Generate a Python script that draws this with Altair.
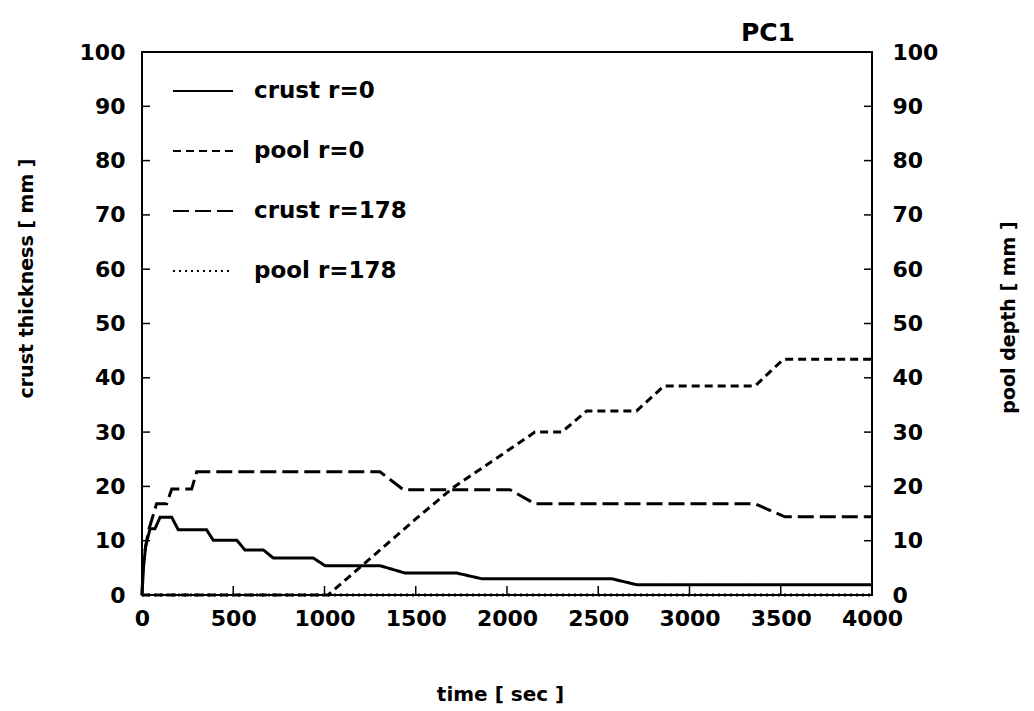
import altair as alt
import pandas as pd

# ---- data ----
series_names = ["crust r=0", "pool r=0", "crust r=178", "pool r=178"]

t_crust0 = [0, 8, 20, 44, 71, 99, 163, 199, 354, 390, 519, 564, 665, 720, 939, 1003,
            1304, 1441, 1724, 1861, 2573, 2710, 4000]
v_crust0 = [0, 5.0, 9.0, 12.2, 12.2, 14.3, 14.3, 12.0, 12.0, 10.1, 10.1, 8.3, 8.3, 6.8, 6.8, 5.4,
            5.4, 4.05, 4.05, 3.0, 3.0, 1.9, 1.9]

t_pool0 = [0, 1020, 1277, 1500, 1706, 2000, 2153, 2300, 2437, 2710, 2860, 3359, 3514, 4000]
v_pool0 = [0, 0, 7.5, 14.0, 19.8, 26.5, 30.0, 30.0, 33.9, 33.9, 38.5, 38.5, 43.4, 43.4]

t_crust178 = [0, 7, 35, 80, 135, 163, 272, 300, 1304, 1432, 2016, 2153, 3359, 3523, 4000]
v_crust178 = [0, 6.3, 11.8, 16.8, 16.8, 19.5, 19.5, 22.7, 22.7, 19.4, 19.4, 16.8, 16.8, 14.4, 14.4]

t_pool178 = [0, 4000]
v_pool178 = [0, 0]

x_ticks = [0, 500, 1000, 1500, 2000, 2500, 3000, 3500, 4000]
y_ticks = [0, 10, 20, 30, 40, 50, 60, 70, 80, 90, 100]

rows = []
for name, ts, vs in [("crust r=0", t_crust0, v_crust0), ("pool r=0", t_pool0, v_pool0),
                     ("crust r=178", t_crust178, v_crust178), ("pool r=178", t_pool178, v_pool178)]:
    for i, (t, v) in enumerate(zip(ts, vs)):
        rows.append({"series": name, "time": t, "value": v, "order": i})
df = pd.DataFrame(rows)
xt = pd.DataFrame({"time": x_ticks})
yt = pd.DataFrame({"v": y_ticks})

W, H = 730, 543
FONT = "DejaVu Sans"

xscale = alt.Scale(domain=[0, 4000], nice=False, zero=False)
yscale = alt.Scale(domain=[0, 100], nice=False, zero=False)

x_axis = alt.Axis(values=x_ticks, format="d", title="time [ sec ]", labelFlush=False,
                  labelPadding=13, titleX=358, titleY=99,
                  titleBaseline="middle", titleAlign="center", titleFontSize=20)

lines = alt.Chart(df).mark_line(color="black", strokeWidth=3, clip=False).encode(
    x=alt.X("time:Q", scale=xscale, axis=x_axis),
    y=alt.Y("value:Q", scale=yscale,
            axis=alt.Axis(values=y_ticks, title="crust thickness [ mm ]", labelPadding=17,
                          titleX=-116, titleY=226, titleAngle=270,
                          titleBaseline="middle", titleAlign="center", titleFontSize=19)),
    strokeDash=alt.StrokeDash("series:N",
                              scale=alt.Scale(domain=series_names,
                                              range=[[1, 0], [8, 5], [16, 6], [2, 4]]),
                              legend=alt.Legend(title=None, orient="none", legendX=30, legendY=8,
                                                symbolType="stroke", symbolSize=3600,
                                                symbolStrokeWidth=2, symbolStrokeColor="black",
                                                labelFont=FONT, labelFontWeight="bold",
                                                labelFontSize=23, labelColor="black",
                                                labelOffset=20, rowPadding=17, padding=0)),
    detail="series:N",
    order="order:Q",
)

left_ticks = alt.Chart(yt).mark_rule(color="black", strokeWidth=1.5).encode(
    y=alt.Y("v:Q", scale=yscale, axis=None),
    x=alt.value(0), x2=alt.value(8))

right_ticks = alt.Chart(yt).mark_rule(color="black", strokeWidth=1.5).encode(
    y=alt.Y("v:Q", scale=yscale,
            axis=alt.Axis(orient="right", values=y_ticks, title="pool depth [ mm ]",
                          labelPadding=20, titleX=136, titleY=265, titleAngle=270,
                          titleBaseline="middle", titleAlign="center", titleFontSize=19)),
    x=alt.value(W - 8), x2=alt.value(W))

bottom_ticks = alt.Chart(xt).mark_rule(color="black", strokeWidth=1.5).encode(
    x=alt.X("time:Q", scale=xscale, axis=x_axis),
    y=alt.value(H), y2=alt.value(H - 9))

chart = alt.layer(lines, left_ticks, right_ticks, bottom_ticks).resolve_scale(
    y="independent"
).properties(
    width=W, height=H,
    title=alt.TitleParams("PC1", anchor="end", frame="group", dx=-77, dy=46, fontSize=25,
                          font=FONT, fontWeight="bold", color="black", baseline="bottom",
                          offset=16),
    autosize=alt.AutoSizeParams(type="none"),
    padding={"left": 142, "top": 52, "right": 162, "bottom": 116},
    background="white",
).configure_axis(
    labelFont=FONT, labelFontWeight="bold", labelFontSize=22, labelColor="black",
    titleFont=FONT, titleFontWeight="bold", titleColor="black",
    ticks=False, tickSize=0, domain=False, grid=False, labelOverlap=False,
).configure_view(stroke="black", strokeWidth=2)

chart.save("out.html", embed_options={"renderer": "svg", "actions": False})
